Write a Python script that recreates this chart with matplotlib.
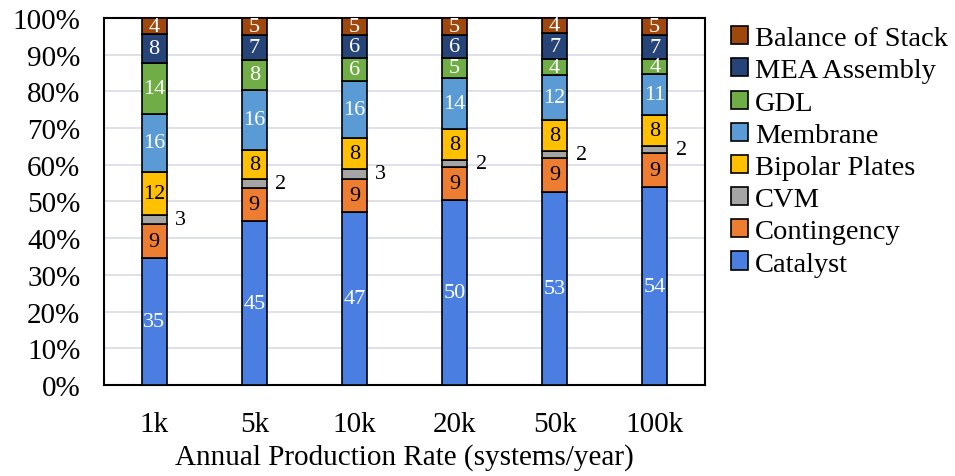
import numpy as np
import matplotlib
matplotlib.use('Agg')
import matplotlib.pyplot as plt
from matplotlib.ticker import PercentFormatter

plt.rcParams['font.family'] = ['Liberation Serif', 'DejaVu Serif']

rates = ['1k', '5k', '10k', '20k', '50k', '100k']

# cost share (%) per component, bottom to top
catalyst    = [34.6, 44.6, 47.1, 50.4, 52.7, 53.9]
contingency = [9.2, 9.1, 9.0, 8.9, 9.1, 9.2]
cvm         = [2.6, 2.4, 2.8, 2.0, 2.0, 2.1]
bipolar     = [11.7, 8.0, 8.3, 8.5, 8.4, 8.4]
membrane    = [15.7, 16.4, 15.6, 14.0, 12.2, 11.1]
gdl         = [13.9, 8.1, 6.2, 5.2, 4.4, 4.1]
mea         = [7.9, 6.8, 6.4, 6.4, 7.0, 6.6]
bos         = [4.4, 4.6, 4.6, 4.6, 4.2, 4.6]

names = ['Catalyst', 'Contingency', 'CVM', 'Bipolar Plates', 'Membrane',
         'GDL', 'MEA Assembly', 'Balance of Stack']
series = [catalyst, contingency, cvm, bipolar, membrane, gdl, mea, bos]
colors = ['#4A7EE0', '#ED7D31', '#A5A5A5', '#FFC000', '#5B9BD5',
          '#70AD47', '#264478', '#9E480E']
txtcol = ['white', 'black', None, 'black', 'white', 'white', 'white', 'white']

fig = plt.figure(figsize=(9.55, 4.77), dpi=100)
ax = fig.add_axes([0.109, 0.191, 0.629, 0.769])

x = np.arange(len(rates))
bottom = np.zeros(len(rates))
for name, vals, c, tc in zip(names, series, colors, txtcol):
    vals = np.array(vals)
    ax.bar(x, vals, 0.25, bottom=bottom, color=c, edgecolor='black',
           linewidth=1.2, label=name, zorder=3)
    for i, v in enumerate(vals):
        if tc is None:
            ax.text(x[i] + 0.21, bottom[i] + v / 2, f'{v:.0f}', ha='left',
                    va='center', fontsize=16, color='black')
        else:
            ax.text(x[i], bottom[i] + v / 2, f'{v:.0f}', ha='center',
                    va='center', fontsize=16, color=tc, zorder=4)
    bottom += vals

ax.set_xlim(-0.5, len(rates) - 0.5)
ax.set_ylim(0, 100)
ax.set_yticks(np.arange(0, 101, 10))
ax.yaxis.set_major_formatter(PercentFormatter(decimals=0))
ax.set_xticks(x)
ax.set_xticklabels(rates)
ax.tick_params(length=0, labelsize=21)
ax.tick_params(axis='y', pad=17)
ax.tick_params(axis='x', pad=19)
ax.grid(axis='y', color='#D9DCE6', linewidth=1.2, zorder=0)
for s in ax.spines.values():
    s.set_linewidth(1.5)
    s.set_color('black')
ax.set_xlabel('Annual Production Rate (systems/year)', fontsize=21, labelpad=4)

h, l = ax.get_legend_handles_labels()
fig.legend(h[::-1], l[::-1], loc='upper left', bbox_to_anchor=(0.753, 0.967),
           frameon=False, fontsize=20.5, handlelength=0.6, handleheight=0.6,
           handletextpad=0.25, labelspacing=0.25, borderaxespad=0)

fig.savefig('out.png', dpi=100)
